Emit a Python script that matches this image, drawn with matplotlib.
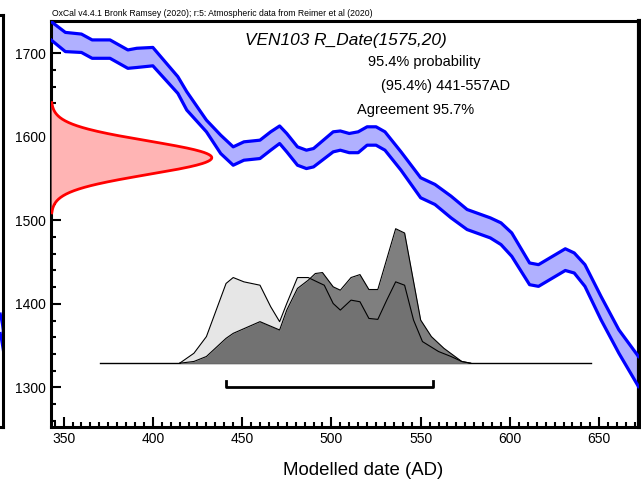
import matplotlib
matplotlib.use('Agg')

import numpy as np
import matplotlib.pyplot as plt
from matplotlib.ticker import MultipleLocator

plt.rcParams['font.family'] = ['Liberation Sans', 'DejaVu Sans']

# calibration curve band (cal AD vs radiocarbon BP, upper / lower 1 sigma)
cal_years = [343, 351, 360, 366, 376, 386, 391, 400, 414, 419, 430, 438, 445, 451,
             460, 466, 471, 475, 481, 486, 490, 501, 505, 510, 515, 520, 525, 530,
             539, 550, 558, 567, 576, 589, 595, 601, 611, 616, 631, 636, 642, 651,
             661, 672]
curve_upper = [1738, 1725, 1723, 1716, 1716, 1704, 1706, 1707, 1672, 1654, 1620, 1602,
               1588, 1594, 1596, 1606, 1613, 1604, 1588, 1584, 1586, 1606, 1607, 1604,
               1606, 1612, 1612, 1606, 1582, 1551, 1543, 1529, 1513, 1503, 1497, 1485,
               1449, 1447, 1466, 1461, 1447, 1409, 1369, 1337]
curve_lower = [1716, 1702, 1701, 1694, 1694, 1682, 1683, 1685, 1652, 1632, 1606, 1580,
               1566, 1572, 1574, 1584, 1592, 1582, 1566, 1562, 1564, 1582, 1584, 1581,
               1581, 1590, 1590, 1584, 1560, 1527, 1519, 1503, 1489, 1479, 1471, 1457,
               1423, 1421, 1440, 1437, 1421, 1381, 1341, 1301]

# radiocarbon measurement
c14_mean = 1575
c14_sd = 20

# calibrated likelihood and modelled posterior (relative probability)
like_years = [415, 423, 430, 441, 445, 451, 460, 466, 471, 475, 481, 487, 492, 496,
              501, 505, 511, 516, 521, 526, 531, 536, 541, 546, 551, 560, 567, 573, 578]
like_prob = [0.0, 0.074, 0.198, 0.593, 0.637, 0.605, 0.580, 0.420, 0.309, 0.444,
             0.637, 0.637, 0.605, 0.580, 0.444, 0.395, 0.469, 0.457, 0.333, 0.326,
             0.469, 0.605, 0.580, 0.321, 0.161, 0.087, 0.050, 0.013, 0.0]
post_years = [415, 423, 430, 441, 445, 460, 471, 475, 481, 487, 491, 495, 501, 505,
              511, 516, 521, 526, 536, 541, 550, 556, 563, 573, 578]
post_prob = [0.0, 0.013, 0.050, 0.185, 0.222, 0.309, 0.247, 0.395, 0.556, 0.617,
             0.667, 0.674, 0.568, 0.543, 0.637, 0.659, 0.548, 0.548, 1.0, 0.968,
             0.321, 0.198, 0.111, 0.013, 0.0]

# 95.4% range
range_start = 441
range_end = 557

fig = plt.figure(figsize=(6.41, 4.86), dpi=100)
ax = fig.add_axes([0.0797, 0.122, 0.9164, 0.8354])

# neighbouring plot, mostly off the page
ax_prev = fig.add_axes([-0.3, 0.122, 0.3052, 0.847])
ax_prev.set_xlim(0, 1)
ax_prev.set_ylim(1253, 1760)
ax_prev.fill_between([0.985, 1.0], [1392, 1372], [1368, 1346], color='#b0b0ff', lw=0)
ax_prev.plot([0.985, 1.0], [1392, 1372], color='#0000ff', lw=2)
ax_prev.plot([0.985, 1.0], [1368, 1346], color='#0000ff', lw=2)
ax_prev.set_xticks([])
ax_prev.set_yticks([])
for s in ax_prev.spines.values():
    s.set_linewidth(2.2)

# calibration curve
ax.fill_between(cal_years, curve_lower, curve_upper, color='#b0b0ff', lw=0, zorder=2)
ax.plot(cal_years, curve_upper, color='#0000ff', lw=2.3, zorder=3)
ax.plot(cal_years, curve_lower, color='#0000ff', lw=2.3, zorder=3)

# radiocarbon date on the y axis
x_min, x_max = 343, 672
bp = np.linspace(c14_mean - 3.3 * c14_sd, c14_mean + 3.3 * c14_sd, 200)
dens = np.exp(-0.5 * ((bp - c14_mean) / c14_sd) ** 2)
red_width = 90
ax.fill_betweenx(bp, x_min, x_min + dens * red_width, color='#ffb4b4', lw=0, zorder=4)
ax.plot(x_min + dens * red_width, bp, color='#ff0000', lw=2, zorder=5)

# distributions on the x axis
base = 1329
height = 161
ax.plot([370.5, 645.5], [base, base], color='black', lw=1, zorder=6)
ax.fill_between(like_years, base, base + np.array(like_prob) * height,
                color='#e6e6e6', lw=0, zorder=6)
ax.fill_between(post_years, base, base + np.array(post_prob) * height,
                color='black', alpha=0.5, lw=0, zorder=7)
ax.plot(like_years, base + np.array(like_prob) * height, color='black', lw=0.8, zorder=8)
ax.plot(post_years, base + np.array(post_prob) * height, color='black', lw=0.8, zorder=8)

# range bracket
br_y = 1300
ax.plot([range_start, range_start, range_end, range_end],
        [br_y + 8, br_y, br_y, br_y + 8], color='black', lw=2, zorder=8)

ax.set_xlim(x_min, x_max)
ax.set_ylim(1253, 1739)
ax.xaxis.set_major_locator(MultipleLocator(50))
ax.xaxis.set_minor_locator(MultipleLocator(5))
ax.yaxis.set_major_locator(MultipleLocator(100))
ax.yaxis.set_minor_locator(MultipleLocator(20))
ax.tick_params(which='both', direction='in', top=False, right=False, width=1.5,
               labelsize=10, pad=4)
ax.tick_params(which='major', length=7)
ax.tick_params(which='minor', length=3.5)
for s in ax.spines.values():
    s.set_linewidth(2.2)
ax.spines['right'].set_linewidth(3)

W, H = 641, 486
fig.text(52 / W, 1 - 13 / H, 'OxCal v4.4.1 Bronk Ramsey (2020); r:5: Atmospheric data from Reimer et al (2020)',
         fontsize=6.2, va='center', ha='left')
fig.text(245 / W, 1 - 40 / H, 'VEN103 R_Date(1575,20)', fontsize=12.4, style='italic',
         va='center', ha='left')
fig.text(368 / W, 1 - 62 / H, '95.4% probability', fontsize=10.5, va='center', ha='left')
fig.text(381 / W, 1 - 86 / H, '(95.4%) 441-557AD', fontsize=10.5, va='center', ha='left')
fig.text(357 / W, 1 - 110 / H, 'Agreement 95.7%', fontsize=10.5, va='center', ha='left')
fig.text(363 / W, 1 - 470 / H, 'Modelled date (AD)', fontsize=13.4, va='center', ha='center')

plt.savefig('out.png', dpi=100)
